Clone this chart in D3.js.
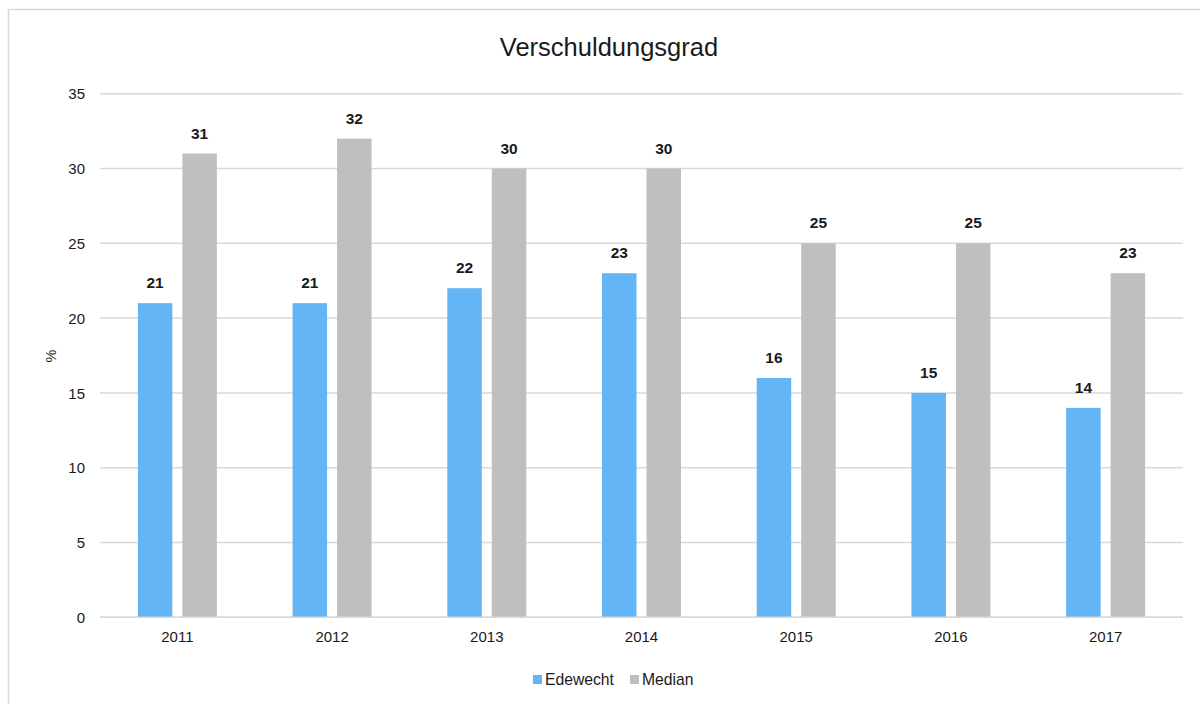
<!DOCTYPE html>
<html>
<head>
<meta charset="utf-8">
<script src="https://cdn.jsdelivr.net/npm/d3@7"></script>
<style>
  html, body { margin: 0; padding: 0; background: #fff; }
  svg { display: block; font-family: "Liberation Sans", Arial, sans-serif; }
</style>
</head>
<body>
<svg id="chart" width="1200" height="704"></svg>
<script>
// Debt ratio (%) per year: Edewecht vs. median of comparable municipalities
const years = ["2011", "2012", "2013", "2014", "2015", "2016", "2017"];
const edewecht = [21, 21, 22, 23, 16, 15, 14];
const median = [31, 32, 30, 30, 25, 25, 23];
const seriesNames = ["Edewecht", "Median"];
const yTicks = [0, 5, 10, 15, 20, 25, 30, 35];

const colors = { Edewecht: "#63B5F5", Median: "#BFBFBF" };
const gridColor = "#D9D9D9";

const svg = d3.select("#chart");
const W = 1200, H = 704;

// Outer chart frame (extends past the right and bottom edges)
svg.append("rect")
  .attr("x", 8.5).attr("y", 9.5)
  .attr("width", W).attr("height", H)
  .attr("fill", "#fff")
  .attr("stroke", gridColor)
  .attr("stroke-width", 1.5);

const plot = { left: 100, right: 1183, top: 93.7, bottom: 617.3 };

const x = d3.scaleBand().domain(years).range([plot.left, plot.right]);
const y = d3.scaleLinear().domain([0, 35]).range([plot.bottom, plot.top]);

const barW = 34.5, gap = 10;
const x1 = d3.scaleOrdinal().domain(seriesNames)
  .range([-(barW + gap / 2), gap / 2]);

// Title
svg.append("text")
  .attr("x", 609).attr("y", 55.5)
  .attr("text-anchor", "middle")
  .attr("font-size", 25.5)
  .attr("fill", "#1a1a1a")
  .text("Verschuldungsgrad");

// Horizontal gridlines
svg.append("g")
  .selectAll("line")
  .data(yTicks)
  .join("line")
  .attr("x1", plot.left).attr("x2", plot.right)
  .attr("y1", d => y(d)).attr("y2", d => y(d))
  .attr("stroke", gridColor)
  .attr("stroke-width", 1.5);

// Y axis tick labels
const yAxis = d3.axisLeft(y).tickValues(yTicks).tickSize(0).tickPadding(0);
const gy = svg.append("g")
  .attr("transform", `translate(${plot.left - 15},0)`)
  .call(yAxis);
gy.select(".domain").remove();
gy.selectAll("text")
  .attr("font-size", 15)
  .attr("font-family", "Liberation Sans, Arial, sans-serif")
  .attr("fill", "#1a1a1a")
  .attr("dy", "0.35em");

// X axis labels
const xAxis = d3.axisBottom(x).tickSize(0).tickPadding(0);
const gx = svg.append("g")
  .attr("transform", `translate(0,${plot.bottom})`)
  .call(xAxis);
gx.select(".domain").remove();
gx.selectAll("text")
  .attr("font-size", 15)
  .attr("font-family", "Liberation Sans, Arial, sans-serif")
  .attr("fill", "#1a1a1a")
  .attr("dy", null)
  .attr("y", 24.5);

// Y axis title
svg.append("text")
  .attr("transform", "translate(56,356) rotate(-90)")
  .attr("text-anchor", "middle")
  .attr("font-size", 14.5)
  .attr("fill", "#1a1a1a")
  .text("%");

// Bars
const rows = years.map((yr, i) => ({
  year: yr,
  values: [
    { key: "Edewecht", value: edewecht[i] },
    { key: "Median", value: median[i] }
  ]
}));

const groups = svg.append("g")
  .selectAll("g")
  .data(rows)
  .join("g")
  .attr("transform", d => `translate(${x(d.year) + x.bandwidth() / 2},0)`);

groups.selectAll("rect")
  .data(d => d.values)
  .join("rect")
  .attr("x", d => x1(d.key))
  .attr("y", d => y(d.value))
  .attr("width", barW)
  .attr("height", d => y(0) - y(d.value))
  .attr("fill", d => colors[d.key]);

groups.selectAll("text")
  .data(d => d.values)
  .join("text")
  .attr("x", d => x1(d.key) + barW / 2)
  .attr("y", d => y(d.value) - 15)
  .attr("text-anchor", "middle")
  .attr("font-size", 15.5)
  .attr("font-weight", "bold")
  .attr("fill", "#1a1a1a")
  .text(d => d.value);

// Baseline over the bars
svg.append("line")
  .attr("x1", plot.left).attr("x2", plot.right)
  .attr("y1", y(0)).attr("y2", y(0))
  .attr("stroke", gridColor)
  .attr("stroke-width", 1.5);

// Legend
const legendItems = [
  { key: "Edewecht", x: 533 },
  { key: "Median", x: 630 }
];
const lg = svg.append("g")
  .selectAll("g")
  .data(legendItems)
  .join("g")
  .attr("transform", d => `translate(${d.x},675)`);
lg.append("rect")
  .attr("width", 9).attr("height", 9)
  .attr("fill", d => colors[d.key]);
lg.append("text")
  .attr("x", 12).attr("y", 9.5)
  .attr("font-size", 15.7)
  .attr("fill", "#1a1a1a")
  .text(d => d.key);
</script>
</body>
</html>
